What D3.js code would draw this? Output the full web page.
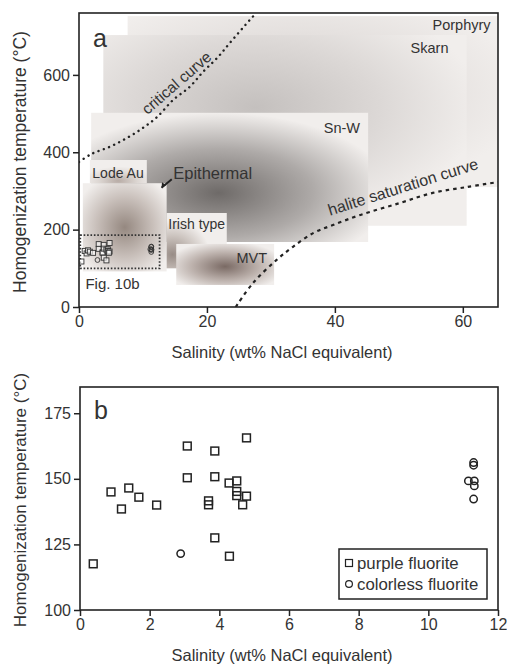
<!DOCTYPE html>
<html>
<head>
<meta charset="utf-8">
<script src="https://cdn.jsdelivr.net/npm/d3@7"></script>
<style>
  body { margin: 0; background: #fff; }
  text { font-family: "Liberation Sans", Arial, sans-serif; fill: #333; }
</style>
</head>
<body>
<script>
// panel b data (salinity wt%, Th °C)
var purpleSal = [0.38, 0.89, 1.19, 1.40, 1.69, 2.20, 3.08, 3.08, 3.69, 3.69, 3.87, 3.87, 3.87, 4.29, 4.28, 4.50, 4.50, 4.50, 4.78, 4.78, 4.67];
var purpleTh  = [117.6, 145.0, 138.5, 146.5, 143.0, 140.0, 162.5, 150.4, 141.6, 140.1, 160.6, 150.8, 127.5, 120.5, 148.4, 149.2, 145.2, 143.6, 165.6, 143.4, 140.1];
var colorlessSal = [2.89, 11.30, 11.30, 11.15, 11.32, 11.32, 11.30];
var colorlessTh  = [121.5, 156.2, 155.2, 149.2, 149.2, 147.3, 142.3];

// panel a fields: salinity range, temperature range
var fieldNames = ["Porphyry", "Skarn", "Sn-W", "Lode Au", "Epithermal", "Irish type", "MVT"];
var fieldSal = [[7.6, 66], [3.8, 60.6], [1.9, 45.2], [1.7, 10.6], [0.6, 13.7], [13.7, 23.1], [15.2, 30.5]];
var fieldTh  = [[310, 752], [210, 703], [168, 502], [320, 380], [92, 320], [100, 243], [57, 163]];

// curves
var criticalSal = [0, 2.0, 4.8, 7.5, 10, 12.2, 14.7, 17.3, 19.4, 21.6, 23.6, 26.7, 27.7];
var criticalTh  = [375, 396, 414, 437, 463, 491, 535, 569, 608, 644, 683, 742, 760];
var haliteSal = [24.5, 27.2, 30.9, 33.4, 36.6, 39.7, 44, 50.2, 55.3, 60.6, 65.5];
var haliteTh  = [0, 62, 122, 155, 191, 212, 238, 269, 295, 310, 323];

var ticksA_x = [0, 20, 40, 60], ticksA_y = [0, 200, 400, 600];
var ticksB_x = [0, 2, 4, 6, 8, 10, 12], ticksB_y = [100, 125, 150, 175];

var svg = d3.select("body").append("svg").attr("width", 507).attr("height", 671);
var defs = svg.append("defs");

var xA = d3.scaleLinear().domain([0, 65.5]).range([79, 498]);
var yA = d3.scaleLinear().domain([0, 760]).range([307, 13]);
var xB = d3.scaleLinear().domain([0, 12]).range([80, 498]);
var yB = d3.scaleLinear().domain([100, 185]).range([610, 387]);

defs.append("clipPath").attr("id", "clipA").append("rect")
  .attr("x", 79).attr("y", 13).attr("width", 419).attr("height", 294);

// gradient look for each field: [cx, cy, centre colour, mid colour]
var fieldLook = [
  [0.45, 0.45, "#d6d2d0", "#e4e0de"],
  [0.42, 0.38, "#c4c0be", "#dcd8d6"],
  [0.46, 0.62, "#6e6a68", "#aeaaa8"],
  [0.5, 0.9, "#b8aca6", "#ddd7d3"],
  [0.5, 0.5, "#958880", "#c9c0bb"],
  [0.1, 0.75, "#988c86", "#ccc4bf"],
  [0.5, 0.55, "#7a6a64", "#bdb2ad"]
];
fieldLook.forEach(function(l, i) {
  var g = defs.append("radialGradient").attr("id", "fg" + i)
    .attr("cx", l[0]).attr("cy", l[1]).attr("r", 0.62).attr("fx", l[0]).attr("fy", l[1]);
  g.append("stop").attr("offset", "0").attr("stop-color", l[2]);
  g.append("stop").attr("offset", "0.55").attr("stop-color", l[3]);
  g.append("stop").attr("offset", "1").attr("stop-color", "#f1eeec");
});

var gA = svg.append("g").attr("clip-path", "url(#clipA)");
gA.selectAll("rect.field").data(fieldNames).enter().append("rect")
  .attr("class", "field")
  .attr("x", function(d, i) { return xA(fieldSal[i][0]); })
  .attr("width", function(d, i) { return xA(fieldSal[i][1]) - xA(fieldSal[i][0]); })
  .attr("y", function(d, i) { return yA(fieldTh[i][1]); })
  .attr("height", function(d, i) { return yA(fieldTh[i][0]) - yA(fieldTh[i][1]); })
  .attr("fill", function(d, i) { return "url(#fg" + i + ")"; });

// curves
var lineA = d3.line().curve(d3.curveCatmullRom)
  .x(function(d) { return xA(d[0]); }).y(function(d) { return yA(d[1]); });
gA.append("path").datum(d3.zip(criticalSal, criticalTh)).attr("d", lineA)
  .attr("fill", "none").attr("stroke", "#222").attr("stroke-width", 2.4)
  .attr("stroke-linecap", "round").attr("stroke-dasharray", "0.1,5.5");
gA.append("path").datum(d3.zip(haliteSal, haliteTh)).attr("d", lineA)
  .attr("fill", "none").attr("stroke", "#222").attr("stroke-width", 2.2)
  .attr("stroke-dasharray", "3.5,4");

// Fig. 10b box
gA.append("rect")
  .attr("x", xA(0.2)).attr("y", yA(186))
  .attr("width", xA(12.6) - xA(0.2)).attr("height", yA(100) - yA(186))
  .attr("fill", "none").attr("stroke", "#333").attr("stroke-width", 1.8)
  .attr("stroke-dasharray", "1.6,1.8");

// small markers in panel a
gA.selectAll("rect.pa").data(d3.zip(purpleSal, purpleTh)).enter().append("rect")
  .attr("x", function(d) { return xA(d[0]) - 2.5; }).attr("y", function(d) { return yA(d[1]) - 2.5; })
  .attr("width", 5).attr("height", 5)
  .attr("fill", "#fff").attr("fill-opacity", 0.6).attr("stroke", "#333").attr("stroke-width", 0.9);
gA.selectAll("circle.pa").data(d3.zip(colorlessSal, colorlessTh)).enter().append("circle")
  .attr("cx", function(d) { return xA(d[0]); }).attr("cy", function(d) { return yA(d[1]); })
  .attr("r", 2.4).attr("fill", "none").attr("stroke", "#333").attr("stroke-width", 0.9);

// field labels
var labelPos = [[59.8, 716, 14.5], [54.8, 657, 14.5], [41.1, 450, 14.5], [6.1, 333, 14], [20.9, 331, 16.5], [18.4, 202, 14], [27.0, 114, 14.5]];
svg.selectAll("text.fl").data(fieldNames).enter().append("text")
  .attr("x", function(d, i) { return xA(labelPos[i][0]); })
  .attr("y", function(d, i) { return yA(labelPos[i][1]); })
  .attr("text-anchor", "middle")
  .style("font-size", function(d, i) { return labelPos[i][2] + "px"; })
  .text(function(d) { return d; });

svg.append("line")
  .attr("x1", xA(14.5)).attr("y1", yA(330)).attr("x2", xA(12.9)).attr("y2", yA(308))
  .attr("stroke", "#222").attr("stroke-width", 2);
svg.append("path")
  .attr("d", "M" + xA(12.9) + "," + yA(308) + "l0.5,-5.5l4,3z")
  .attr("fill", "#222");

svg.append("text").attr("x", xA(1)).attr("y", yA(47))
  .style("font-size", "15px").text("Fig. 10b");

svg.append("text")
  .attr("transform", "translate(" + xA(15.8) + "," + yA(569) + ") rotate(-41)")
  .attr("text-anchor", "middle").style("font-size", "15.5px").text("critical curve");
svg.append("text")
  .attr("transform", "translate(" + xA(50.9) + "," + yA(297) + ") rotate(-17.5)")
  .attr("text-anchor", "middle").style("font-size", "16px").text("halite saturation curve");

svg.append("text").attr("x", 93).attr("y", 47).style("font-size", "25px").text("a");

// axes for panel a
function styleAxis(g) {
  g.select(".domain").remove();
  g.selectAll(".tick line").attr("stroke", "#222").attr("stroke-width", 1.5);
  g.selectAll(".tick text").style("font-size", "16px").attr("fill", "#333")
    .style("font-family", "'Liberation Sans', Arial, sans-serif");
}
svg.append("g").attr("transform", "translate(0,307)")
  .call(d3.axisBottom(xA).tickValues(ticksA_x).tickSize(6).tickPadding(3)).call(styleAxis);
svg.append("g").attr("transform", "translate(79,0)")
  .call(d3.axisLeft(yA).tickValues(ticksA_y).tickSize(6).tickPadding(3)).call(styleAxis);
svg.append("rect").attr("x", 79).attr("y", 13).attr("width", 419).attr("height", 294)
  .attr("fill", "none").attr("stroke", "#222").attr("stroke-width", 1.6);

svg.append("text").attr("x", 282).attr("y", 358).attr("text-anchor", "middle")
  .style("font-size", "16.5px").text("Salinity (wt% NaCl equivalent)");
svg.append("text").attr("transform", "translate(26,162) rotate(-90)").attr("text-anchor", "middle")
  .style("font-size", "17.5px").text("Homogenization temperature (°C)");

// panel b
svg.append("g").attr("transform", "translate(0,610)")
  .call(d3.axisBottom(xB).tickValues(ticksB_x).tickSize(6).tickPadding(3)).call(styleAxis);
svg.append("g").attr("transform", "translate(80,0)")
  .call(d3.axisLeft(yB).tickValues(ticksB_y).tickSize(6).tickPadding(3)).call(styleAxis);
svg.append("rect").attr("x", 80).attr("y", 387).attr("width", 418).attr("height", 223)
  .attr("fill", "none").attr("stroke", "#222").attr("stroke-width", 1.6);

svg.selectAll("rect.pb").data(d3.zip(purpleSal, purpleTh)).enter().append("rect")
  .attr("x", function(d) { return xB(d[0]) - 3.9; }).attr("y", function(d) { return yB(d[1]) - 3.9; })
  .attr("width", 7.8).attr("height", 7.8)
  .attr("fill", "none").attr("stroke", "#222").attr("stroke-width", 1.5);
svg.selectAll("circle.pb").data(d3.zip(colorlessSal, colorlessTh)).enter().append("circle")
  .attr("cx", function(d) { return xB(d[0]); }).attr("cy", function(d) { return yB(d[1]); })
  .attr("r", 3.7).attr("fill", "none").attr("stroke", "#222").attr("stroke-width", 1.5);

svg.append("text").attr("x", 94).attr("y", 419).style("font-size", "25px").text("b");

// legend
var lg = svg.append("g");
lg.append("rect").attr("x", 339).attr("y", 549).attr("width", 148).attr("height", 50)
  .attr("fill", "#fff").attr("stroke", "#222").attr("stroke-width", 1.5);
lg.append("rect").attr("x", 345.5).attr("y", 559.5).attr("width", 7).attr("height", 7)
  .attr("fill", "none").attr("stroke", "#222").attr("stroke-width", 1.2);
lg.append("circle").attr("cx", 349).attr("cy", 584).attr("r", 3.4)
  .attr("fill", "none").attr("stroke", "#222").attr("stroke-width", 1.2);
lg.append("text").attr("x", 357).attr("y", 569).style("font-size", "16.8px").text("purple fluorite");
lg.append("text").attr("x", 357).attr("y", 589.5).style("font-size", "16.8px").text("colorless fluorite");

svg.append("text").attr("x", 282).attr("y", 661).attr("text-anchor", "middle")
  .style("font-size", "16.5px").text("Salinity (wt% NaCl equivalent)");
svg.append("text").attr("transform", "translate(26,500) rotate(-90)").attr("text-anchor", "middle")
  .style("font-size", "17px").text("Homogenization temperature (°C)");
</script>
</body>
</html>
